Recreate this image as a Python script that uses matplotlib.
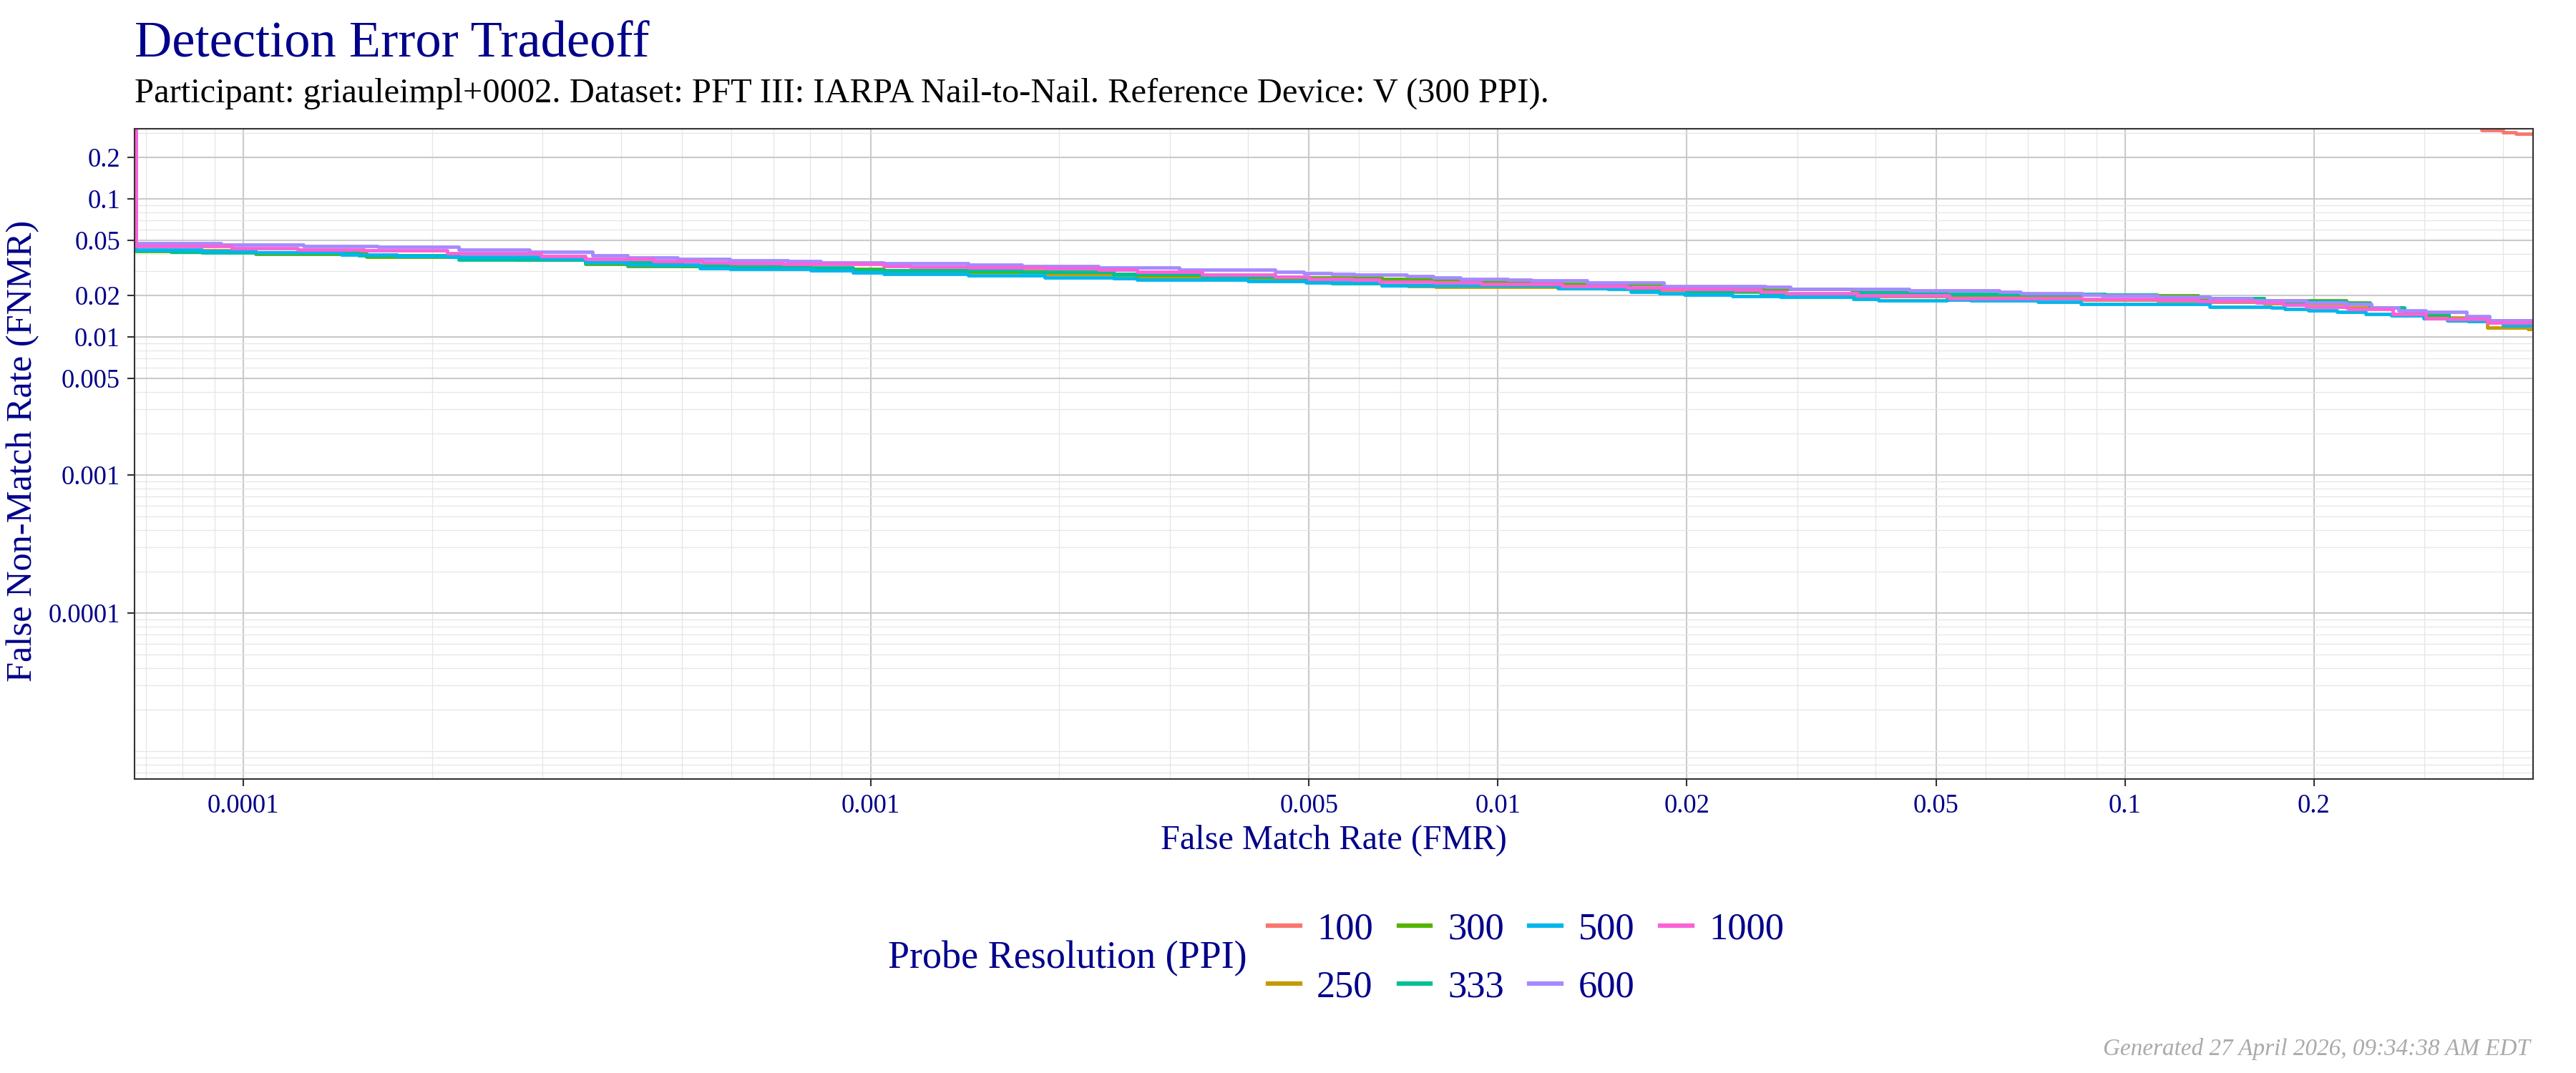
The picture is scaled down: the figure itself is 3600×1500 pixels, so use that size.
import matplotlib
matplotlib.use("Agg")
import matplotlib.pyplot as plt
from matplotlib.lines import Line2D
from matplotlib.ticker import FixedLocator, LogLocator, NullFormatter, FixedFormatter

plt.rcParams['font.family'] = ['Liberation Serif', 'DejaVu Serif']

# ---------------- data ----------------
probe_resolutions = ['100', '250', '300', '333', '500', '600', '1000']
series_colors = ['#F8766D', '#C49A00', '#53B400', '#00C094', '#00B6EB', '#A58AFF', '#FB61D7']

fmr_100 = [0.30, 0.37, 0.40, 0.42, 0.46]
fnmr_100 = [0.50, 0.315, 0.305, 0.296, 0.296]

fmr_250 = [6.75e-5, 6.75e-5, 1.045e-4, 1.572e-4, 2.205e-4, 3.508e-4, 5.0e-4, 8.03e-4, 1.05e-3, 1.9e-3,
           2.66e-3, 4.0e-3, 6.53e-3, 7.2e-3, 7.95e-3, 0.0125, 0.0163, 0.02, 0.0263, 0.037,
           0.052, 0.085, 0.1126, 0.1307, 0.1663, 0.2254, 0.2673, 0.3014, 0.3781, 0.4385, 0.46]
fnmr_250 = [1.0, 0.0423, 0.0407, 0.0390, 0.0375, 0.0345, 0.0325, 0.0308, 0.0300, 0.0285,
            0.0272, 0.0262, 0.02357, 0.02329, 0.02301, 0.0226, 0.0220, 0.0212, 0.0205, 0.0197,
            0.0190, 0.0186, 0.0184, 0.0180, 0.0175, 0.0163, 0.0147, 0.0138, 0.01176, 0.01139, 0.01139]

fmr_300 = [6.75e-5, 6.75e-5, 7.67e-5, 1.045e-4, 1.572e-4, 2.205e-4, 2.72e-4, 3.508e-4, 4.095e-4, 5.97e-4,
           8.03e-4, 1.05e-3, 1.43e-3, 2.442e-3, 3.376e-3, 4.41e-3, 6.53e-3, 7.89e-3, 9.41e-3, 0.01265,
           0.01837, 0.0263, 0.0367, 0.045, 0.052, 0.1126, 0.1307, 0.1663, 0.2254, 0.2455,
           0.2789, 0.3281, 0.46]
fnmr_300 = [1.0, 0.0418, 0.04116, 0.03986, 0.0380, 0.03698, 0.0361, 0.03385, 0.03243, 0.0318,
            0.0312, 0.0303, 0.0296, 0.0282, 0.0275, 0.0268, 0.02625, 0.0260, 0.0252, 0.0243,
            0.0232, 0.0222, 0.0212, 0.0205, 0.02026, 0.02002, 0.01909, 0.0185, 0.01765, 0.01629,
            0.01446, 0.01325, 0.01325]

fmr_333 = [6.75e-5, 6.75e-5, 7.67e-5, 8.58e-5, 1.528e-4, 2.205e-4, 3.508e-4, 4.5e-4, 5.97e-4, 7.22e-4,
           9.37e-4, 1.742e-3, 2.442e-3, 3.376e-3, 4.94e-3, 5.43e-3, 6.53e-3, 0.0125, 0.0163, 0.02,
           0.0263, 0.0374, 0.0452, 0.052, 0.093, 0.1119, 0.1364, 0.1663, 0.2254, 0.2455,
           0.2789, 0.3281, 0.3781, 0.46]
fnmr_333 = [1.0, 0.0423, 0.04147, 0.0410, 0.03906, 0.03636, 0.03466, 0.0330, 0.03266, 0.0320,
            0.03053, 0.02958, 0.02843, 0.0273, 0.0252, 0.02444, 0.02375, 0.0230, 0.0224, 0.0214,
            0.0206, 0.0210, 0.0207, 0.02051, 0.02026, 0.01949, 0.01909, 0.0182, 0.0175, 0.0164,
            0.0148, 0.01346, 0.0131, 0.0131]

fmr_500 = [6.75e-5, 6.75e-5, 8.58e-5, 1.045e-4, 1.434e-4, 1.759e-4, 2.113e-4, 2.962e-4, 3.508e-4, 4.095e-4,
           5.35e-4, 5.97e-4, 8.03e-4, 9.37e-4, 1.05e-3, 1.43e-3, 1.896e-3, 2.442e-3, 2.657e-3, 3.997e-3,
           4.94e-3, 6.53e-3, 0.01247, 0.01498, 0.0163, 0.01811, 0.01985, 0.02366, 0.02823, 0.03687,
           0.04042, 0.052, 0.0567, 0.0726, 0.0849, 0.1364, 0.171, 0.1798, 0.1957, 0.2176,
           0.242, 0.2654, 0.2993, 0.3258, 0.3524, 0.4002, 0.46]
fnmr_500 = [1.0, 0.04266, 0.0418, 0.0407, 0.03953, 0.0386, 0.03787, 0.0371, 0.03466, 0.0333,
            0.0314, 0.0310, 0.03053, 0.02933, 0.02843, 0.02786, 0.0271, 0.02657, 0.02594, 0.02524,
            0.02464, 0.02375, 0.02256, 0.0222, 0.02126, 0.02068, 0.02028, 0.01972, 0.01941, 0.01895,
            0.0185, 0.01872, 0.01835, 0.01799, 0.01729, 0.01662, 0.01642, 0.01596, 0.01553, 0.01517,
            0.01475, 0.01434, 0.01362, 0.01325, 0.01294, 0.01209, 0.01209]

fmr_600 = [6.75e-5, 6.75e-5, 9.21e-5, 1.246e-4, 1.64e-4, 2.205e-4, 2.86e-4, 3.608e-4, 4.1e-4, 4.92e-4,
           5.97e-4, 7.38e-4, 8.32e-4, 1.05e-3, 1.43e-3, 1.742e-3, 2.31e-3, 3.103e-3, 4.41e-3, 4.9e-3,
           5.43e-3, 5.91e-3, 7.15e-3, 7.89e-3, 8.71e-3, 0.01038, 0.0113, 0.01387, 0.01837, 0.02668,
           0.02924, 0.04522, 0.063, 0.0681, 0.0855, 0.0917, 0.1126, 0.1364, 0.1594, 0.1943,
           0.2254, 0.2472, 0.273, 0.3014, 0.3499, 0.3808, 0.46]
fnmr_600 = [1.0, 0.0480, 0.0467, 0.0458, 0.0449, 0.0430, 0.0413, 0.0391, 0.0375, 0.0368,
            0.0358, 0.03538, 0.03466, 0.0340, 0.03357, 0.03266, 0.0318, 0.03077, 0.02981, 0.02889,
            0.02843, 0.0281, 0.02765, 0.0271, 0.02646, 0.0260, 0.02563, 0.02473, 0.02348, 0.0231,
            0.02239, 0.02168, 0.02134, 0.02084, 0.02026, 0.01988, 0.01949, 0.01909, 0.0185, 0.0178,
            0.01729, 0.0164, 0.01553, 0.01517, 0.01417, 0.01325, 0.01325]

fmr_1000 = [6.75e-5, 6.75e-5, 9.6e-5, 1.22e-4, 1.561e-4, 2.113e-4, 2.983e-4, 3.508e-4, 4.5e-4, 5.4e-4,
            5.97e-4, 7.22e-4, 1.05e-3, 1.158e-3, 1.43e-3, 1.9e-3, 2.31e-3, 2.66e-3, 3.376e-3, 4.41e-3,
            5.0e-3, 5.87e-3, 6.48e-3, 7.89e-3, 9.41e-3, 0.01265, 0.01607, 0.01824, 0.02384, 0.0263,
            0.02884, 0.03741, 0.05, 0.0524, 0.0855, 0.1126, 0.1307, 0.1616, 0.1785, 0.1943,
            0.227, 0.2673, 0.3014, 0.3258, 0.3781, 0.46]
fnmr_1000 = [1.0, 0.04545, 0.0440, 0.0430, 0.04216, 0.04033, 0.0386, 0.0368, 0.0355, 0.0346,
             0.0344, 0.03385, 0.03266, 0.0323, 0.0320, 0.03128, 0.03077, 0.02981, 0.0281, 0.0273,
             0.02625, 0.02604, 0.02523, 0.02481, 0.02423, 0.02348, 0.02283, 0.02239, 0.02194, 0.02134,
             0.02068, 0.01988, 0.02002, 0.01909, 0.01886, 0.01872, 0.0182, 0.01765, 0.01708, 0.01662,
             0.01596, 0.01475, 0.01362, 0.01346, 0.01273, 0.01273]

series_fmr = [fmr_100, fmr_250, fmr_300, fmr_333, fmr_500, fmr_600, fmr_1000]
series_fnmr = [fnmr_100, fnmr_250, fnmr_300, fnmr_333, fnmr_500, fnmr_600, fnmr_1000]

x_ticks = [0.0001, 0.001, 0.005, 0.01, 0.02, 0.05, 0.1, 0.2]
x_tick_labels = ['0.0001', '0.001', '0.005', '0.01', '0.02', '0.05', '0.1', '0.2']
y_ticks = [0.0001, 0.001, 0.005, 0.01, 0.02, 0.05, 0.1, 0.2]
y_tick_labels = ['0.0001', '0.001', '0.005', '0.01', '0.02', '0.05', '0.1', '0.2']

title_text = "Detection Error Tradeoff"
subtitle_text = ("Participant: griauleimpl+0002. Dataset: PFT III: IARPA Nail-to-Nail. "
                 "Reference Device: V (300 PPI).")
caption_text = "Generated 27 April 2026, 09:34:38 AM EDT"

# ---------------- figure ----------------
navy = '#00008B'
fig = plt.figure(figsize=(12, 5), dpi=300)
ax = fig.add_axes([188 / 3600, 1 - 1089 / 1500, (3540 - 188) / 3600, (1089 - 180) / 1500])

ax.set_xscale('log')
ax.set_yscale('log')
ax.set_xlim(6.71e-5, 0.447)
ax.set_ylim(6.3e-6, 0.322)

# grid
ax.xaxis.set_minor_locator(LogLocator(base=10, subs=range(1, 10), numticks=50))
ax.yaxis.set_minor_locator(LogLocator(base=10, subs=range(1, 10), numticks=50))
ax.xaxis.set_minor_formatter(NullFormatter())
ax.yaxis.set_minor_formatter(NullFormatter())
ax.xaxis.set_major_locator(FixedLocator(x_ticks))
ax.xaxis.set_major_formatter(FixedFormatter(x_tick_labels))
ax.yaxis.set_major_locator(FixedLocator(y_ticks))
ax.yaxis.set_major_formatter(FixedFormatter(y_tick_labels))
ax.grid(which='minor', color='#E6E6E6', linewidth=0.3)
ax.grid(which='major', color='#CACACA', linewidth=0.5)
ax.set_axisbelow(True)
ax.tick_params(which='minor', length=0)
ax.tick_params(which='major', length=2.4, width=0.5, color='#333333', pad=2.4,
               labelsize=8.8, labelcolor=navy)
for sp in ax.spines.values():
    sp.set_color('#333333')
    sp.set_linewidth(0.5)

for fx, fy, col in zip(series_fmr, series_fnmr, series_colors):
    ax.plot(fx, fy, drawstyle='steps-post', color=col, linewidth=1.15, solid_capstyle='butt')

# texts
fig.text(188 / 3600, 1 - 80 / 1500, title_text, fontsize=17.4, color=navy, ha='left', va='baseline')
fig.text(188 / 3600, 1 - 143 / 1500, subtitle_text, fontsize=11.65, color='black', ha='left', va='baseline')
fig.text((188 + 3540) / 2 / 3600, 1 - 1187 / 1500, "False Match Rate (FMR)", fontsize=11.6,
         color=navy, ha='center', va='baseline')
fig.text(32 / 3600, 1 - 630 / 1500, "False Non-Match Rate (FNMR)", fontsize=12.1,
         color=navy, ha='center', va='center', rotation=90)
fig.text(3536 / 3600, 1 - 1466 / 1500, caption_text, fontsize=7.95, color='#AAAAAA',
         style='italic', ha='right', va='center')

# legend
fig.text(1743 / 3600, 1 - 1340 / 1500, "Probe Resolution (PPI)", fontsize=13, color=navy,
         ha='right', va='center')
handles = [Line2D([0], [0], color=c, linewidth=1.5) for c in series_colors]
leg = fig.legend(handles, probe_resolutions, ncol=4, loc='center left',
                 bbox_to_anchor=(1772 / 3600, 1 - 1340 / 1500), frameon=False,
                 fontsize=12.6, handlelength=0.85, handletextpad=0.45, columnspacing=0.68,
                 labelspacing=0.62, borderpad=0, borderaxespad=0)
for t in leg.get_texts():
    t.set_color(navy)

fig.savefig('out.png', dpi=300)
